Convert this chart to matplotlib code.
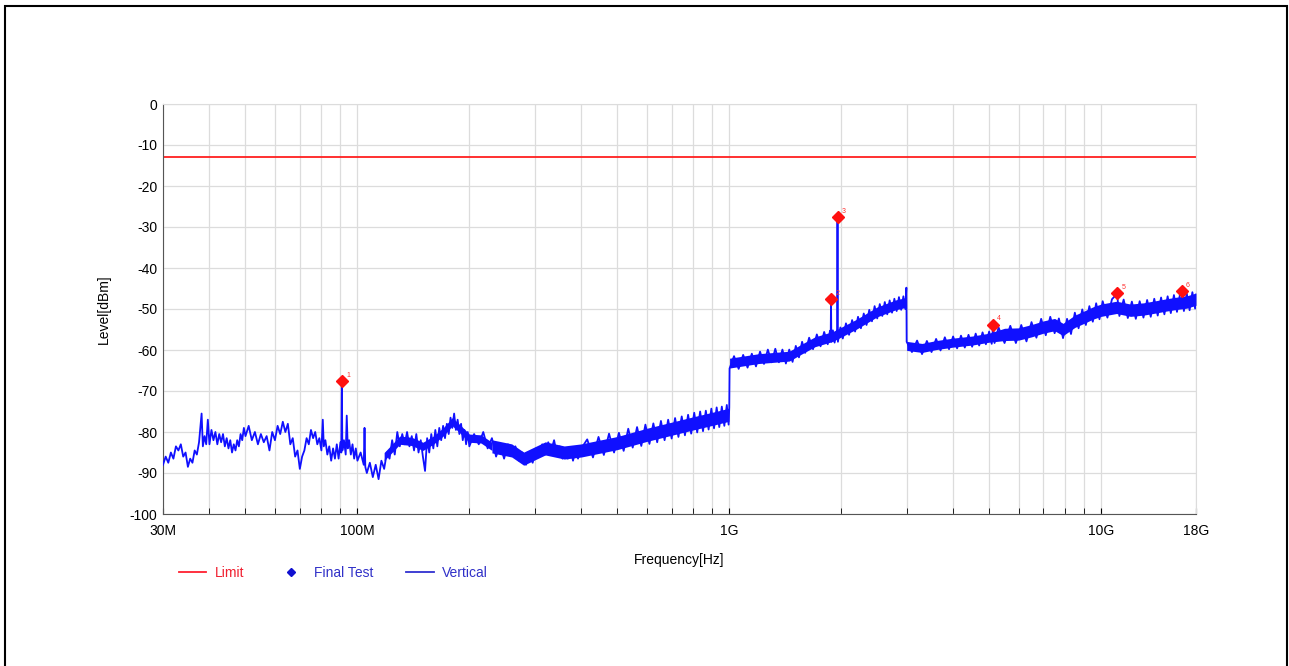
import matplotlib
matplotlib.use("Agg")
import matplotlib.pyplot as plt
from matplotlib.lines import Line2D
from matplotlib.patches import Rectangle

plt.rcParams['font.family'] = ['Liberation Sans', 'DejaVu Sans']
plt.rcParams['axes.unicode_minus'] = False

f_30_100 = [30, 30.5, 31, 31.5, 32, 32.5, 33, 33.5, 34, 34.5, 35, 35.5, 36, 36.5, 37, 37.5,
            38.1, 38.4, 38.8, 39.2, 39.6, 40, 40.5, 41, 41.5, 42, 42.5, 43, 43.5, 44, 44.5,
            45, 45.5, 46, 46.5, 47, 47.5, 48, 48.5, 49, 49.5, 50, 51, 52, 53, 54, 55, 56, 57,
            58, 59, 60, 61, 62, 63, 64, 65, 66, 67, 68, 69, 70, 71, 72, 73, 74, 75, 76, 77,
            78, 79, 80, 80.7, 81.2, 82, 83, 84, 85, 86, 87, 88, 89, 90, 90.5, 90.8, 91.1, 92,
            93, 93.6, 94.2, 95, 96, 97, 98, 99, 100]
l_30_100 = [-88, -86, -87.5, -85, -86.5, -83.5, -84.5, -83, -86, -85, -88.5, -86.5, -87.5, -84.5,
            -85.5, -82.5, -75.5, -83.5, -81, -83, -77, -83, -79.5, -82, -80, -83, -80.5, -82.5,
            -80.5, -83.5, -81.5, -84, -82, -85, -83, -84.5, -82, -83.5, -80.5, -82, -79, -81,
            -78.5, -82, -80, -83, -80.5, -82.5, -81, -84.5, -80, -82, -78.5, -80.5, -77.5, -80,
            -78, -83, -81.5, -86, -84.5, -89, -86, -84.5, -81.5, -83, -79.5, -81.5, -80, -83,
            -81.5, -84.5, -77, -83.5, -82, -85.5, -83.5, -87, -84, -86.5, -83, -86.5, -82.5,
            -85, -67.8, -84.5, -82, -85.5, -76, -84, -82, -85.5, -83, -86.5, -84, -87]

f_100_400 = [102, 104, 104.5, 105, 106, 108, 110, 112, 114, 116, 118, 120, 122, 124, 126, 128,
             130, 132, 134, 136, 138, 140, 142, 144, 146, 148, 150, 152, 154, 156, 158, 160,
             162, 164, 166, 168, 170, 172, 174, 176, 178, 180, 182, 184, 186, 188, 190, 192,
             194, 196, 198, 200, 206, 212, 218, 224, 230, 236, 242, 248, 254, 260, 266, 272,
             278, 284, 290, 296, 302, 308, 314, 320, 326, 332, 338, 344, 350, 356, 362, 368,
             374, 380, 386, 392, 400]
l_100_400 = [-85, -88, -79, -88.5, -90, -87.5, -91, -88, -91.5, -87, -89, -85, -86.5, -82, -85.5,
             -80, -83.5, -80.5, -83, -80, -83.5, -81, -84.5, -80.5, -85, -82, -86, -89.5, -81.5,
             -85, -80.5, -84, -79.5, -83.5, -79, -82, -78.5, -81.5, -78, -80.5, -76.5, -79,
             -75.5, -79.5, -77, -80.5, -78, -82, -79.5, -83, -80, -83.5, -80.5, -83, -80, -84,
             -81.5, -86, -83, -86.5, -83, -85, -83.5, -87, -85, -88, -85.5, -87.5, -84, -86,
             -83, -85.5, -82.5, -84.5, -82, -85.5, -83.5, -86.5, -84, -86.5, -84, -87, -84.5,
             -86.5, -84]

f_400_1000 = [415, 430, 445, 460, 475, 490, 505, 520, 535, 550, 565, 580, 595, 610, 625, 640,
              655, 670, 685, 700, 715, 730, 745, 760, 775, 790, 805, 820, 835, 850, 865, 880,
              895, 910, 925, 940, 955, 970, 985, 996, 1000]
l_400_1000 = [-81.8, -86.2, -81.2, -85.6, -80.4, -85, -80.2, -84.6, -79.2, -83.8, -78.8, -83.4,
              -78.2, -82.9, -77.9, -82.5, -77.3, -82, -77, -81.6, -76.6, -81.2, -76.2, -80.8,
              -75.8, -80.4, -75.3, -80.1, -75, -79.8, -74.8, -79.4, -74.3, -79.1, -74, -78.8,
              -73.8, -78.5, -73.4, -78.2, -74]

f_1000_3000 = [1002, 1030, 1060, 1090, 1120, 1150, 1180, 1210, 1240, 1270, 1300, 1330, 1360,
               1390, 1420, 1450, 1480, 1510, 1540, 1570, 1600, 1640, 1680, 1720, 1760, 1800,
               1840, 1866, 1874, 1878, 1882, 1900, 1920, 1950, 1955, 1960, 1990, 2020, 2060,
               2100, 2140, 2180, 2220, 2260, 2300, 2340, 2380, 2420, 2460, 2500, 2540, 2580,
               2620, 2660, 2700, 2740, 2780, 2820, 2860, 2900, 2940, 2975, 2995]
l_1000_3000 = [-64.5, -61.5, -64.6, -61.2, -64.3, -60.9, -64, -60.4, -63.4, -59.9, -63, -59.7,
               -63, -59.9, -63.3, -59.9, -62.9, -59, -61.8, -58, -60.7, -57, -59.8, -56.2, -59.1,
               -55.6, -58.6, -55.3, -57.5, -47.5, -58, -55.2, -58.2, -55, -27.5, -58, -54.5,
               -57.2, -53.5, -56.3, -52.7, -55.5, -51.9, -54.7, -51.1, -53.9, -50.2, -53, -49.3,
               -52.3, -48.8, -51.7, -48.3, -51.3, -47.9, -50.9, -47.5, -50.5, -47.1, -50.2,
               -46.9, -50, -44.8]

f_3000_18000 = [3000, 3100, 3200, 3300, 3400, 3500, 3600, 3700, 3800, 3900, 4000, 4100, 4200,
                4300, 4400, 4500, 4600, 4700, 4800, 4900, 5000, 5080, 5124, 5170, 5300, 5500,
                5700, 5900, 6100, 6300, 6500, 6700, 6900, 7100, 7300, 7500, 7700, 7900, 8100,
                8300, 8500, 8700, 8900, 9100, 9300, 9500, 9700, 9900, 10100, 10400, 10700,
                11040, 11200, 11500, 11800, 12100, 12400, 12700, 13000, 13300, 13600, 13900,
                14200, 14500, 14800, 15100, 15400, 15700, 16000, 16300, 16500, 16700, 17000,
                17300, 17600, 17900, 18000]
l_3000_18000 = [-58, -60.5, -57.7, -61, -57.8, -60.5, -57.3, -60.1, -56.9, -59.8, -56.7, -59.6,
                -56.5, -59.4, -56.3, -59.2, -56, -58.9, -55.7, -58.6, -55.5, -58.5, -54, -58.3,
                -54.5, -58.3, -54.1, -58.3, -53.9, -57.9, -53.2, -57, -52.4, -56.4, -51.9, -55.9,
                -52.3, -57.1, -52.4, -56.1, -50.9, -54.7, -50.1, -53.9, -49.3, -53.1, -48.6,
                -52.5, -48.1, -52.1, -47.6, -46.3, -51.7, -47.7, -52.2, -48.2, -52.4, -48.1,
                -52.1, -47.8, -51.9, -47.5, -51.6, -47.2, -51.3, -46.9, -51, -46.6, -50.7, -46.4,
                -45.8, -50.5, -46.2, -50.3, -45.9, -49.9, -46.5]

# solid core of the noise band (MHz, upper dBm, lower dBm), one set per sweep
band0_f = [118, 130, 140, 150, 160, 170, 180, 190, 200, 215, 230]
band0_hi = [-85, -81, -81.3, -82.5, -81, -79, -76.5, -78.5, -80.5, -80.7, -82.5]
band0_lo = [-87, -83, -83.3, -84.5, -83, -81, -78.5, -80.5, -82.5, -82.7, -84.5]
band1_f = [230, 260, 280, 320, 360, 400, 500, 600, 700, 800, 900, 998]
band1_hi = [-81.9, -82.9, -84.9, -82.4, -83.4, -82.9, -81.1, -79.1, -77.6, -76.3, -75.2, -74.2]
band1_lo = [-85.1, -86.1, -88.1, -85.6, -86.6, -86.1, -84.3, -82.3, -80.8, -79.5, -78.4, -77.4]
band2_f = [1002, 1200, 1450, 1550, 1700, 1900, 2200, 2500, 2800, 2990]
band2_hi = [-62, -60.9, -60.3, -58.8, -56.8, -55.5, -52.5, -49.5, -47.8, -47.2]
band2_lo = [-64.4, -63.3, -62.7, -61.2, -59.2, -57.9, -54.9, -51.9, -50.2, -49.6]
band3_f = [3000, 3300, 3600, 4000, 4500, 5000, 5500, 6000, 6500, 7000, 7500, 7900, 8500, 9000,
           9500, 10000, 11000, 12000, 13000, 14000, 15000, 16000, 17000, 18000]
band3_hi = [-57.9, -58.4, -57.7, -57.1, -56.6, -55.9, -54.7, -54.6, -53.8, -52.9, -52.3, -53.5,
            -51.5, -50.5, -49.5, -48.8, -48.1, -48.8, -48.5, -48, -47.5, -47.1, -46.8, -46.1]
band3_lo = [-60.1, -60.6, -59.9, -59.3, -58.8, -58.1, -57.7, -57.6, -56.8, -55.9, -55.3, -56.5,
            -54.5, -53.5, -52.5, -51.8, -51.1, -51.8, -51.5, -51, -50.5, -50.1, -49.8, -49.1]

# final test peaks
peak_f = [90.8, 1878, 1955, 5124, 11040, 16500]
peak_l = [-67.6, -47.5, -27.5, -53.8, -46.2, -45.6]
peak_no = ["1", "2", "3", "4", "5", "6"]

limit_dbm = -13

xtick_hz = [30e6, 100e6, 1e9, 10e9, 18e9]
xtick_labels = ["30M", "100M", "1G", "10G", "18G"]

BLUE = "#1010ff"

freq = f_30_100 + f_100_400 + f_400_1000 + f_1000_3000 + f_3000_18000
level = l_30_100 + l_100_400 + l_400_1000 + l_1000_3000 + l_3000_18000

W, H = 1289, 666
fig = plt.figure(figsize=(W / 100, H / 100), dpi=100)
ax = fig.add_axes([163 / W, 1 - 514 / H, (1196 - 163) / W, (514 - 104) / H])

bands = [(band0_f, band0_hi, band0_lo), (band1_f, band1_hi, band1_lo),
         (band2_f, band2_hi, band2_lo), (band3_f, band3_hi, band3_lo)]
for bf, bh, bl in bands:
    ax.fill_between([f * 1e6 for f in bf], bl, bh, color=BLUE, lw=0, zorder=3)
ax.plot([f * 1e6 for f in freq], level, color=BLUE, lw=1.3, zorder=3)
ax.axhline(limit_dbm, color="#ff2020", lw=1.3, zorder=2)
ax.plot([f * 1e6 for f in peak_f], peak_l, ls="none", marker="D", ms=6,
        color="#ff1010", zorder=4)
for f, l, n in zip(peak_f, peak_l, peak_no):
    ax.annotate(n, (f * 1e6, l), xytext=(3, 3), textcoords="offset points",
                fontsize=5, color="#ff3030", zorder=5)

ax.set_xscale("log")
ax.set_xlim(30e6, 18e9)
ax.set_ylim(-100, 0)
ax.set_xticks(xtick_hz)
ax.set_xticklabels(xtick_labels)
minors = [m * 10 ** e for e in (7, 8, 9) for m in range(2, 10)]
ax.set_xticks([m for m in minors if 30e6 < m < 18e9], minor=True)
ax.xaxis.set_minor_formatter(plt.NullFormatter())
ax.set_yticks(range(-100, 1, 10))
ax.tick_params(axis="x", which="both", direction="in", length=4, pad=7, labelsize=10)
ax.tick_params(axis="y", length=0, pad=4, labelsize=10)

ax.grid(True, which="both", axis="x", color="#dcdcdc", lw=0.9)
ax.grid(True, which="major", axis="y", color="#dcdcdc", lw=0.9)
for s in ("top", "right"):
    ax.spines[s].set_color("#dcdcdc")
for s in ("left", "bottom"):
    ax.spines[s].set_color("#555555")

fig.text(679.5 / W, 1 - 560 / H, "Frequency[Hz]", ha="center", va="center", fontsize=10)
fig.text(104 / W, 1 - 309 / H, "Level[dBm]", ha="center", va="center",
         rotation=90, fontsize=10)

handles = [Line2D([], [], color="#ff2030", lw=1.3),
           Line2D([], [], ls="none", marker="D", ms=4, color="#1010d0"),
           Line2D([], [], color="#3030d0", lw=1.3)]
leg = fig.legend(handles, ["Limit", "Final Test", "Vertical"], loc="center left",
                 bbox_to_anchor=(166 / W, 1 - 573 / H), ncol=3, frameon=False,
                 fontsize=10, handlelength=2.0, columnspacing=2.4, handletextpad=0.6)
for t, c in zip(leg.get_texts(), ["#f02030", "#3030c8", "#3030c8"]):
    t.set_color(c)

fig.patches.append(Rectangle((5 / W, -2 / H), (1287 - 5) / W, (660 + 2) / H,
                             transform=fig.transFigure, fill=False, edgecolor="black",
                             lw=1.5, clip_on=False))

fig.savefig("out.png", dpi=100)
